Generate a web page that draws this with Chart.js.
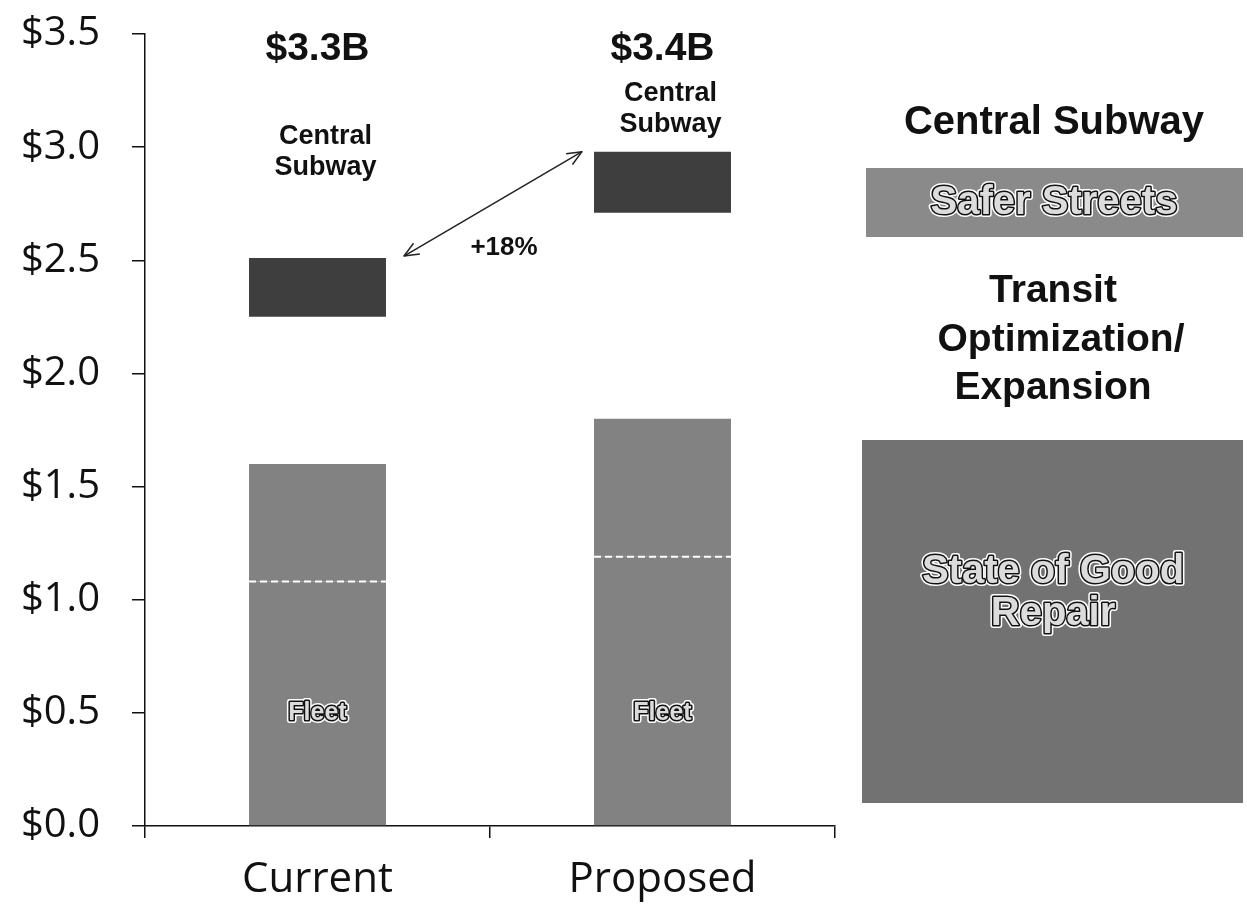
<!DOCTYPE html>
<html>
<head>
<meta charset="utf-8">
<script src="https://cdn.jsdelivr.net/npm/chart.js@4.4.1/dist/chart.umd.min.js"></script>
<style>
  body { margin: 0; background: #fff; }
  #wrap { width: 1247px; height: 923px; }
</style>
</head>
<body>
<div id="wrap"><canvas id="capitalChart" width="1247" height="923"></canvas></div>
<script>
// values, in $ billions
const categories = ['Current', 'Proposed'];
const fleet = [1.08, 1.19];
const goodRepairOther = [0.52, 0.61];
const transitExpansion = [0.65, 0.91];
const saferStreets = [0.26, 0.27];
const centralSubway = [0.79, 0.42];
const totalLabels = ['$3.3B', '$3.4B'];
const yTicks = [0, 0.5, 1, 1.5, 2, 2.5, 3, 3.5];
const changeLabel = '+18%';

const BOLD = '"Liberation Sans", Arial, sans-serif';
const SGR_GREY = '#828282';
const DARK_GREY = '#3e3e3e';

function outlinedText(ctx, text, x, y, size) {
  ctx.font = 'bold ' + size + 'px ' + BOLD;
  ctx.textAlign = 'center';
  ctx.textBaseline = 'middle';
  ctx.lineJoin = 'round';
  ctx.strokeStyle = '#ffffff';
  ctx.lineWidth = 6;
  ctx.strokeText(text, x, y);
  ctx.strokeStyle = '#111111';
  ctx.lineWidth = 3;
  ctx.strokeText(text, x, y);
  ctx.fillStyle = '#dcdcdc';
  ctx.fillText(text, x, y);
}

function plainText(ctx, text, x, y, size) {
  ctx.font = 'bold ' + size + 'px ' + BOLD;
  ctx.textAlign = 'center';
  ctx.textBaseline = 'middle';
  ctx.fillStyle = '#111111';
  ctx.fillText(text, x, y);
}

function arrowHead(ctx, tipX, tipY, fromX, fromY) {
  const a = Math.atan2(tipY - fromY, tipX - fromX);
  const len = 16;
  ctx.beginPath();
  ctx.moveTo(tipX - len * Math.cos(a - 0.4), tipY - len * Math.sin(a - 0.4));
  ctx.lineTo(tipX, tipY);
  ctx.lineTo(tipX - len * Math.cos(a + 0.4), tipY - len * Math.sin(a + 0.4));
  ctx.stroke();
}

const annotations = {
  id: 'annotations',
  afterDatasetsDraw(chart) {
    const ctx = chart.ctx;
    const yScale = chart.scales.y;
    const fleetBars = chart.getDatasetMeta(0).data;
    const saferBars = chart.getDatasetMeta(3).data;
    const subwayBars = chart.getDatasetMeta(4).data;
    ctx.save();

    fleetBars.forEach((bar) => {
      // dashed split between fleet and the rest of state of good repair
      ctx.strokeStyle = '#ffffff';
      ctx.lineWidth = 2;
      ctx.setLineDash([7, 4]);
      ctx.beginPath();
      ctx.moveTo(bar.x - bar.width / 2, bar.y);
      ctx.lineTo(bar.x + bar.width / 2, bar.y);
      ctx.stroke();
      ctx.setLineDash([]);
      outlinedText(ctx, 'Fleet', bar.x, yScale.getPixelForValue(0.5), 25);
    });

    subwayBars.forEach((bar, i) => {
      // label sits in the upper part of the (invisible) central subway block
      const mid = 0.756 * bar.y + 0.244 * bar.base + 30;
      plainText(ctx, 'Central', bar.x + 8, mid - 16, 27);
      plainText(ctx, 'Subway', bar.x + 8, mid + 15, 27);
      plainText(ctx, totalLabels[i], bar.x, chart.chartArea.top + 15, 39);
    });

    // growth arrow between the two safer streets blocks
    const a = saferBars[0], b = saferBars[1];
    const x1 = a.x + a.width / 2 + 18, y1 = a.y - 2;
    const x2 = b.x - b.width / 2 - 12, y2 = b.y;
    ctx.strokeStyle = '#222222';
    ctx.lineWidth = 1.5;
    ctx.beginPath();
    ctx.moveTo(x1, y1);
    ctx.lineTo(x2, y2);
    ctx.stroke();
    arrowHead(ctx, x1, y1, x2, y2);
    arrowHead(ctx, x2, y2, x1, y1);
    plainText(ctx, changeLabel, (x1 + x2) / 2 + 11, (y1 + y2) / 2 + 44, 26);

    // legend on the right
    plainText(ctx, 'Central Subway', 1054, 123, 40);
    ctx.fillStyle = '#8a8a8a';
    ctx.fillRect(866, 168, 377, 69);
    outlinedText(ctx, 'Safer Streets', 1054, 203, 40);
    plainText(ctx, 'Transit', 1053, 291, 39);
    plainText(ctx, 'Optimization/', 1061, 340, 39);
    plainText(ctx, 'Expansion', 1053, 388, 39);
    ctx.fillStyle = '#727272';
    ctx.fillRect(862, 440, 381, 363);
    outlinedText(ctx, 'State of Good', 1053, 572, 40);
    outlinedText(ctx, 'Repair', 1053, 614, 40);

    ctx.restore();
  }
};

const ctx = document.getElementById('capitalChart').getContext('2d');
new Chart(ctx, {
  type: 'bar',
  data: {
    labels: categories,
    datasets: [
      { label: 'Fleet', data: fleet, backgroundColor: SGR_GREY },
      { label: 'State of Good Repair', data: goodRepairOther, backgroundColor: SGR_GREY },
      { label: 'Transit Optimization/Expansion', data: transitExpansion, backgroundColor: 'rgba(0,0,0,0)' },
      { label: 'Safer Streets', data: saferStreets, backgroundColor: DARK_GREY },
      { label: 'Central Subway', data: centralSubway, backgroundColor: 'rgba(0,0,0,0)' }
    ]
  },
  options: {
    responsive: false,
    animation: false,
    barPercentage: 0.397,
    categoryPercentage: 1,
    layout: { padding: { top: 34, right: 412, bottom: 0, left: 0 } },
    plugins: { legend: { display: false }, tooltip: { enabled: false } },
    scales: {
      x: {
        stacked: true,
        afterFit(scale) { scale.height = 97; },
        grid: { drawOnChartArea: false, tickLength: 12, color: '#111', lineWidth: 1.5 },
        border: { color: '#111', width: 1.5 },
        ticks: {
          color: '#111',
          padding: 17,
          font: { family: '"Open Sans", sans-serif', size: 42 }
        }
      },
      y: {
        stacked: true,
        min: 0,
        max: 3.5,
        afterFit(scale) {
          scale.width = 145;
          // the label gap should not push the plot area down
          scale.paddingTop = 0;
          scale.paddingBottom = 0;
        },
        afterBuildTicks(scale) { scale.ticks = yTicks.map(v => ({ value: v })); },
        grid: { drawOnChartArea: false, tickLength: 13, color: '#111', lineWidth: 1.5 },
        border: { color: '#111', width: 1.5 },
        ticks: {
          color: '#111',
          padding: 32,
          font: { family: '"Open Sans", sans-serif', size: 40 },
          callback: (v) => '$' + Number(v).toFixed(1)
        }
      }
    }
  },
  plugins: [annotations]
});
</script>
</body>
</html>
